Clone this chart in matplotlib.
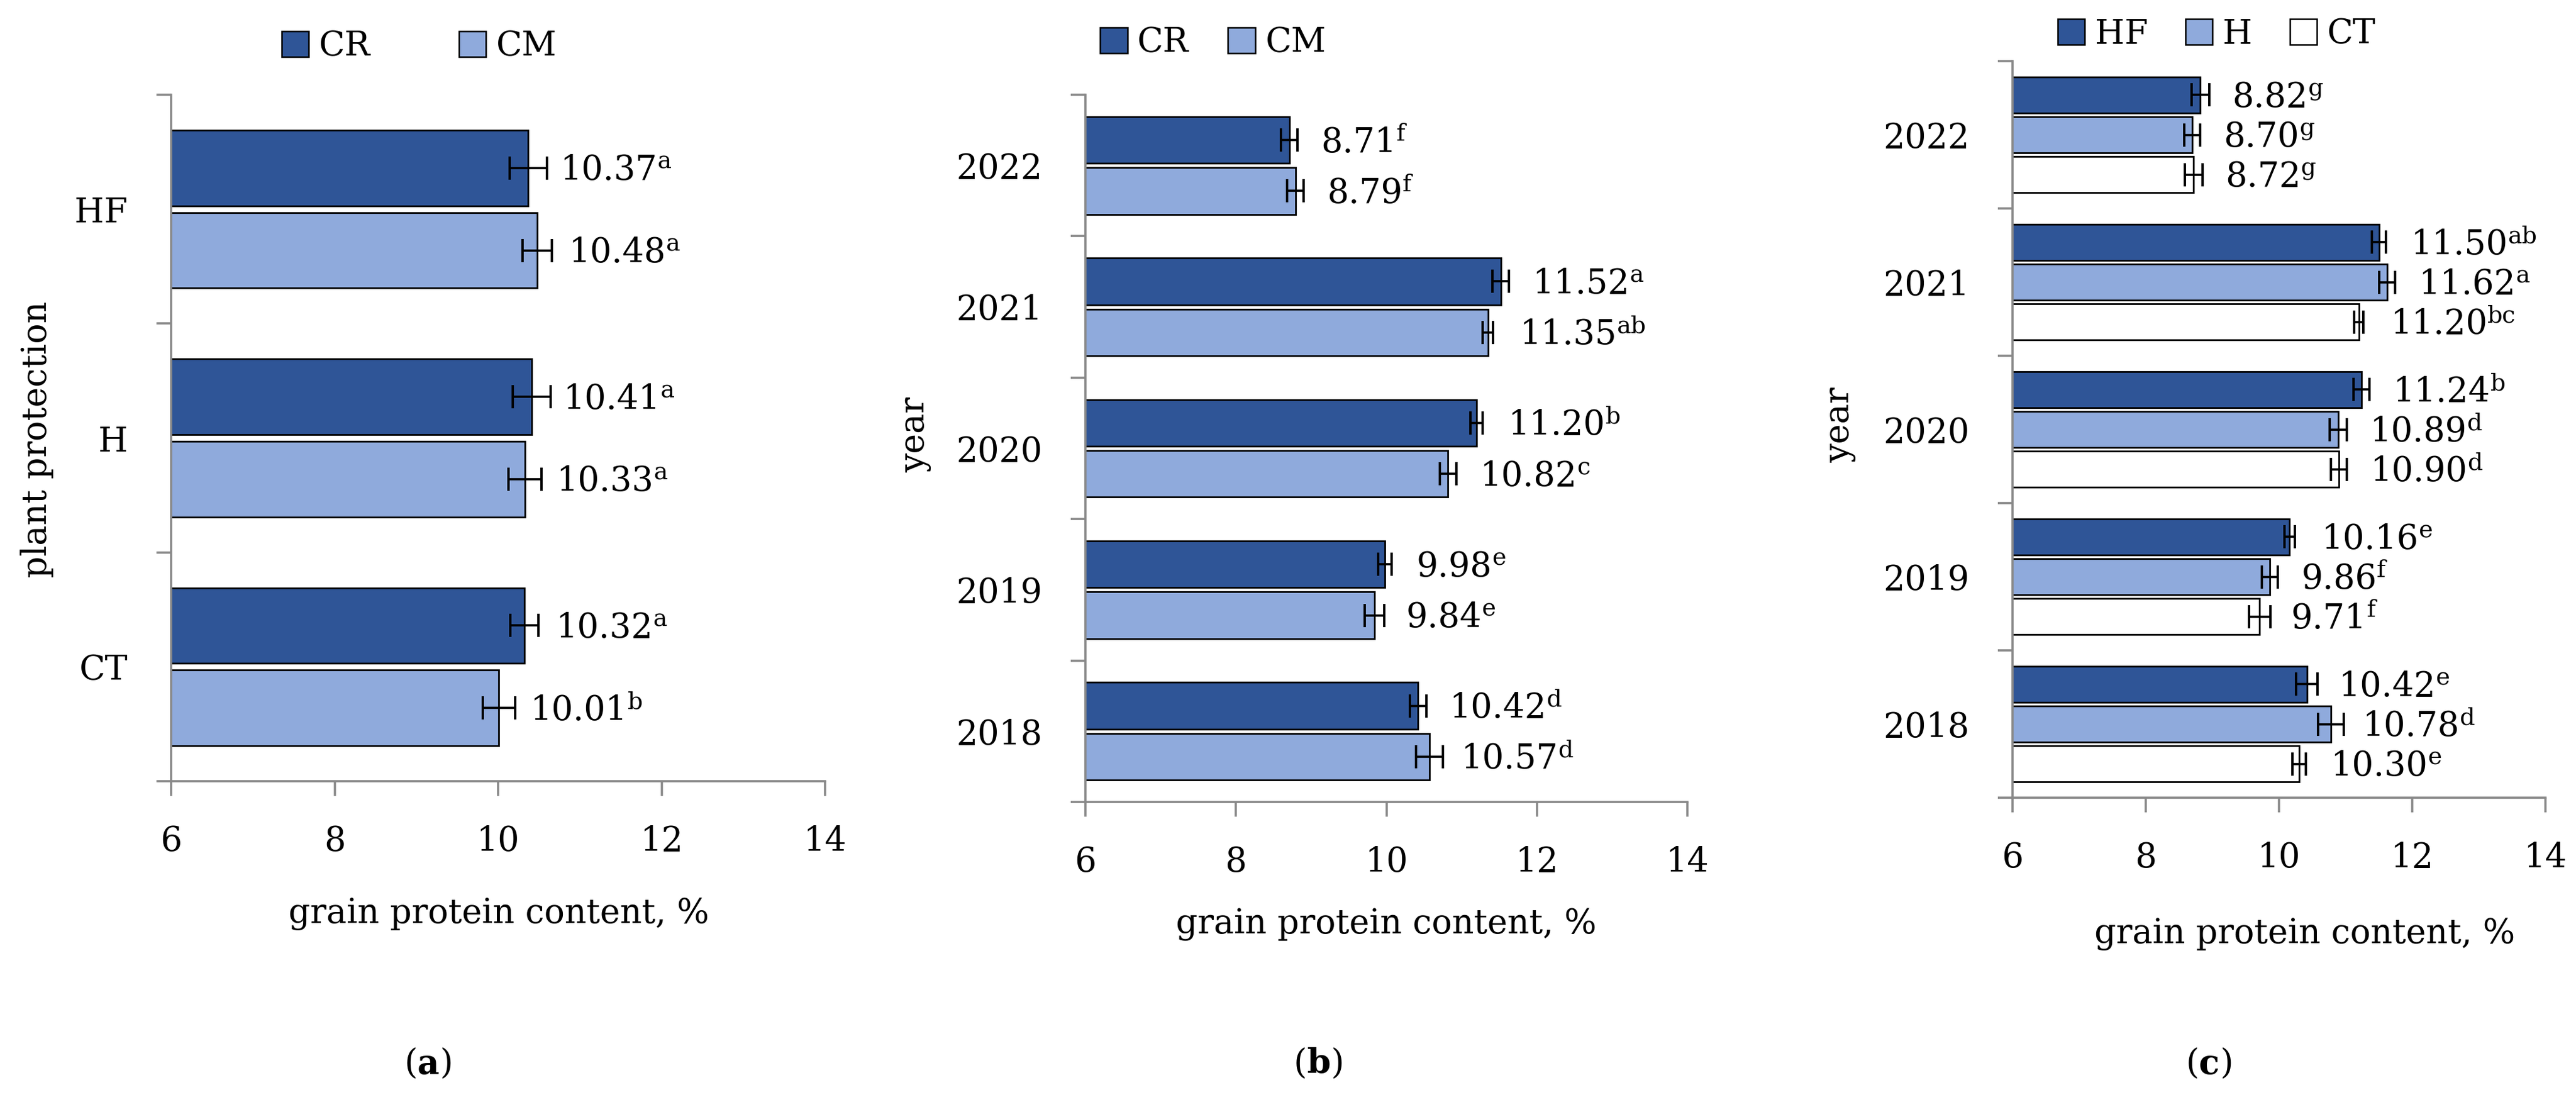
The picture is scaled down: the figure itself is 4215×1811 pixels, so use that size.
import matplotlib
matplotlib.use("Agg")
import matplotlib.pyplot as plt
from matplotlib.patches import Patch
from matplotlib.text import Annotation
import numpy as np

DARK = "#2F5597"
LIGHT = "#8FAADC"
WHITE = "#FFFFFF"
GRAY = "#898989"
W, H = 4215, 1811
FAM = "DejaVu Serif"
FS = 40

# panel (a): plant protection, top to bottom
prot = ["HF", "H", "CT"]
a_cr = [10.37, 10.41, 10.32]
a_cm = [10.48, 10.33, 10.01]
a_cr_err = [0.23, 0.23, 0.17]
a_cm_err = [0.18, 0.20, 0.20]
a_cr_sig = ["a", "a", "a"]
a_cm_sig = ["a", "a", "b"]

# panel (b): year, top to bottom
years = ["2022", "2021", "2020", "2019", "2018"]
b_cr = [8.71, 11.52, 11.20, 9.98, 10.42]
b_cm = [8.79, 11.35, 10.82, 9.84, 10.57]
b_cr_err = [0.11, 0.11, 0.08, 0.09, 0.11]
b_cm_err = [0.11, 0.07, 0.11, 0.13, 0.18]
b_cr_sig = ["f", "a", "b", "e", "d"]
b_cm_sig = ["f", "ab", "c", "e", "d"]

# panel (c): year x plant protection
c_hf = [8.82, 11.50, 11.24, 10.16, 10.42]
c_h = [8.70, 11.62, 10.89, 9.86, 10.78]
c_ct = [8.72, 11.20, 10.90, 9.71, 10.30]
c_hf_err = [0.13, 0.11, 0.12, 0.08, 0.16]
c_h_err = [0.12, 0.12, 0.13, 0.12, 0.19]
c_ct_err = [0.13, 0.07, 0.12, 0.16, 0.10]
c_hf_sig = ["g", "ab", "b", "e", "e"]
c_h_sig = ["g", "a", "d", "f", "d"]
c_ct_sig = ["g", "bc", "d", "f", "e"]

xticks = [6, 8, 10, 12, 14]


def fx(x):
    return x / W


def fy(y):
    return 1 - y / H


def make_ax(fig, l, r, t, b):
    return fig.add_axes([fx(l), fy(b), fx(r - l), (b - t) / H])


def style_ax(ax, cats):
    n = len(cats)
    ax.set_xlim(6, 14)
    ax.set_ylim(-0.5, n - 0.5)
    ax.set_xticks(xticks)
    ax.set_xticklabels([str(v) for v in xticks], family=FAM, fontsize=FS)
    # category axis: marks between groups, labels in the middle
    ax.set_yticks(np.arange(n + 1) - 0.5)
    ax.set_yticklabels([])
    ax.set_yticks(np.arange(n), minor=True)
    ax.set_yticklabels(cats[::-1], minor=True, family=FAM, fontsize=FS)
    for sp in ("top", "right"):
        ax.spines[sp].set_visible(False)
    for sp in ("left", "bottom"):
        ax.spines[sp].set_color(GRAY)
        ax.spines[sp].set_linewidth(2.6)
    ax.tick_params(axis="x", direction="out", length=17, width=2.6, color=GRAY, pad=34)
    ax.tick_params(axis="y", which="major", direction="out", length=17, width=2.6, color=GRAY)
    ax.tick_params(axis="y", which="minor", length=0, pad=51)


def bars(ax, ys, vals, errs, sigs, color, h):
    ax.barh(ys, vals, height=h, color=color, edgecolor="black", linewidth=2.0, zorder=2)
    ax.errorbar(vals, ys, xerr=errs, fmt="none", ecolor="black", elinewidth=2.6,
                capsize=14, capthick=2.8, zorder=3)
    for y, v, s in zip(ys, vals, sigs):
        t = ax.annotate(f"{v:.2f}", xy=(v, y), xytext=(37, -3), textcoords="offset points",
                        ha="left", va="center", family=FAM, fontsize=FS, zorder=4)
        ax.annotate(s, xy=(1, 0.56), xycoords=t, ha="left", va="baseline",
                    family=FAM, fontsize=FS * 0.7, zorder=4)


def legend(ax, labels, colors, x, y, colsp):
    handles = [Patch(facecolor=c, edgecolor="black", linewidth=1.8, label=l)
               for l, c in zip(labels, colors)]
    ax.legend(handles=handles, loc="center", bbox_to_anchor=(fx(x), fy(y)),
              bbox_transform=ax.figure.transFigure, ncol=len(labels), frameon=False,
              prop={"family": FAM, "size": FS}, handlelength=0.8, handleheight=0.8,
              handletextpad=0.3, columnspacing=colsp)


fig = plt.figure(figsize=(W / 100, H / 100), dpi=100)
fig.patch.set_facecolor("white")

# ---- panel (a)
ax_a = make_ax(fig, 280, 1350, 155, 1278)
style_ax(ax_a, prot)
ya = np.arange(len(prot))[::-1]
bars(ax_a, ya + 0.18, a_cr, a_cr_err, a_cr_sig, DARK, 0.33)
bars(ax_a, ya - 0.18, a_cm, a_cm_err, a_cm_sig, LIGHT, 0.33)
fig.text(fx(61), fy(719), "plant protection", rotation=90, ha="center", va="center",
         family=FAM, fontsize=FS)
fig.text(fx(816), fy(1495), "grain protein content, %", ha="center", va="center",
         family=FAM, fontsize=FS)
legend(ax_a, ["CR", "CM"], [DARK, LIGHT], 686, 76, 2.6)

# ---- panel (b)
ax_b = make_ax(fig, 1776, 2761, 155, 1312)
style_ax(ax_b, years)
yb = np.arange(len(years))[::-1]
bars(ax_b, yb + 0.18, b_cr, b_cr_err, b_cr_sig, DARK, 0.33)
bars(ax_b, yb - 0.18, b_cm, b_cm_err, b_cm_sig, LIGHT, 0.33)
fig.text(fx(1497), fy(711), "year", rotation=90, ha="center", va="center",
         family=FAM, fontsize=FS)
fig.text(fx(2268), fy(1512), "grain protein content, %", ha="center", va="center",
         family=FAM, fontsize=FS)
legend(ax_b, ["CR", "CM"], [DARK, LIGHT], 1985, 70, 1.15)

# ---- panel (c)
ax_c = make_ax(fig, 3293, 4165, 100, 1305)
style_ax(ax_c, years)
yc = np.arange(len(years))[::-1]
bars(ax_c, yc + 0.27, c_hf, c_hf_err, c_hf_sig, DARK, 0.245)
bars(ax_c, yc, c_h, c_h_err, c_h_sig, LIGHT, 0.245)
bars(ax_c, yc - 0.27, c_ct, c_ct_err, c_ct_sig, WHITE, 0.245)
fig.text(fx(3010), fy(695), "year", rotation=90, ha="center", va="center",
         family=FAM, fontsize=FS)
fig.text(fx(3771), fy(1528), "grain protein content, %", ha="center", va="center",
         family=FAM, fontsize=FS)
legend(ax_c, ["HF", "H", "CT"], [DARK, LIGHT, WHITE], 3627, 56, 1.1)

# ---- panel letters: regular parentheses, bold letter
for x, y, letter in [(701, 1741, "a"), (2158, 1741, "b"), (3615, 1741, "c")]:
    t = fig.text(fx(x), fy(y), letter, ha="center", va="center", family=FAM,
                 fontsize=FS, fontweight="bold")
    fig.add_artist(Annotation("(", xy=(0, 0.5), xycoords=t, ha="right", va="center",
                              family=FAM, fontsize=FS))
    fig.add_artist(Annotation(")", xy=(1, 0.5), xycoords=t, ha="left", va="center",
                              family=FAM, fontsize=FS))

fig.savefig("out.png", dpi=100, facecolor="white")
